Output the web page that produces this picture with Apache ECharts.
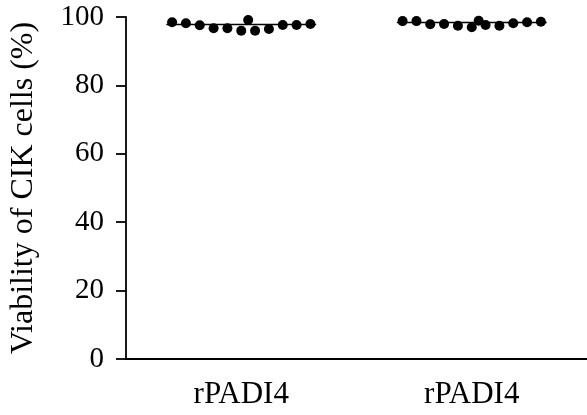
<!DOCTYPE html>
<html>
<head>
<meta charset="utf-8">
<style>
html,body{margin:0;padding:0;background:#fff;}
#chart{width:587px;height:415px;}
</style>
<script src="https://cdn.jsdelivr.net/npm/echarts@6/dist/echarts.min.js"></script>
</head>
<body>
<div id="chart"></div>
<script>
// ---- data ----
const categories = ['rPADI4', 'rPADI4'];
const group1 = [98.45, 98.15, 97.57, 96.69, 96.69, 95.99, 99.12, 95.99, 96.49, 97.66, 97.66, 97.95];
const group2 = [98.8, 98.8, 97.87, 97.95, 97.46, 97.0, 98.9, 97.66, 97.46, 98.15, 98.45, 98.63];
const centerLines = [97.8, 98.4];
const yTicks = [0, 20, 40, 60, 80, 100];
const yTitle = 'Viability of CIK cells (%)';

// ---- layout (swarm slots, in dot-steps from the category centre) ----
const slots = [-5, -4, -3, -2, -1, 0, 0.5, 1, 2, 3, 4, 5];
const step = 0.06;       // slot width in category units
const lineHalf = 0.325;  // half width of centre line

function swarm(values, gi) {
  const c = gi + 0.5;
  return values.map((v, i) => [c + slots[i] * step, v]);
}

const font = 'Liberation Serif';
const chart = echarts.init(document.getElementById('chart'));
const groups = [group1, group2];

const series = [];
groups.forEach((g, gi) => {
  series.push({
    type: 'line',
    xAxisIndex: 1,
    data: [[gi + 0.5 - lineHalf, centerLines[gi]], [gi + 0.5 + lineHalf, centerLines[gi]]],
    symbol: 'none',
    lineStyle: { color: '#000', width: 1.5 },
    silent: true,
    z: 2
  });
  series.push({
    type: 'scatter',
    xAxisIndex: 1,
    data: swarm(g, gi),
    symbolSize: 10,
    itemStyle: { color: '#000', opacity: 1 },
    z: 3
  });
});

chart.setOption({
  animation: false,
  grid: { left: 123, right: 0, top: 17, bottom: 56, containLabel: false },
  xAxis: [
    {
      type: 'category',
      data: categories,
      boundaryGap: true,
      axisLine: { lineStyle: { color: '#000', width: 1.8 } },
      axisTick: { alignWithLabel: true, length: 10, lineStyle: { color: '#000', width: 1.8 } },
      axisLabel: { color: '#000', fontFamily: font, fontSize: 31, margin: 20 }
    },
    {
      type: 'value',
      min: 0, max: 2,
      show: false
    }
  ],
  yAxis: {
    type: 'value',
    min: yTicks[0], max: yTicks[yTicks.length - 1], interval: 20,
    name: yTitle,
    nameLocation: 'middle',
    nameGap: 86,
    nameRotate: 90,
    nameTextStyle: { color: '#000', fontFamily: font, fontSize: 32 },
    axisLine: { show: true, lineStyle: { color: '#000', width: 1.8 } },
    axisTick: { show: true, length: 10, lineStyle: { color: '#000', width: 1.8 } },
    axisLabel: { color: '#000', fontFamily: font, fontSize: 29, margin: 22 },
    splitLine: { show: false }
  },
  series: series
});
</script>
</body>
</html>
